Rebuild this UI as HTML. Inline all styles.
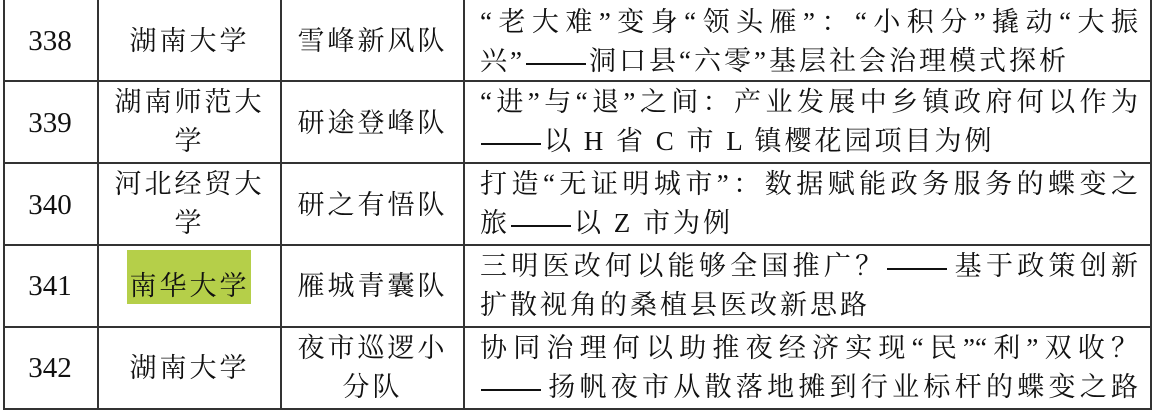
<!DOCTYPE html>
<html><head><meta charset="utf-8"><style>
body{margin:0;width:1155px;height:410px;background:#fff;position:relative;overflow:hidden;
font-family:"Liberation Serif","Noto Serif CJK SC","Noto Sans CJK SC",serif;color:#111;font-size:27px;}
.h{position:absolute;left:3px;width:1149px;height:2px;background:#333}
.v{position:absolute;top:0;width:2px;height:410px;background:#333}
.t{position:absolute;white-space:nowrap;line-height:38px;height:38px;transform:translateY(-19px)}
.c{text-align:center}
.j{text-align:justify;text-align-last:justify}
.num{font-size:29px}
.ti{left:480px;width:658px}
.u{letter-spacing:3px}
.d{display:inline-block;width:60px;height:2px;background:#111;vertical-align:middle;margin:0 3px 0 1px;font-size:0}
</style></head><body>
<div class="h" style="top:80px"></div>
<div class="h" style="top:162px"></div>
<div class="h" style="top:244px"></div>
<div class="h" style="top:326px"></div>
<div class="h" style="top:408px"></div>
<div class="v" style="left:3px"></div>
<div class="v" style="left:97px"></div>
<div class="v" style="left:280px"></div>
<div class="v" style="left:463px"></div>
<div class="v" style="left:1150px"></div>
<div style="position:absolute;left:127px;top:250px;width:124px;height:54px;background:#b5cf49"></div>

<div class="t c num" style="left:3px;width:94px;top:41px">338</div>
<div class="t c num" style="left:3px;width:94px;top:123px">339</div>
<div class="t c num" style="left:3px;width:94px;top:205px">340</div>
<div class="t c num" style="left:3px;width:94px;top:286px">341</div>
<div class="t c num" style="left:3px;width:94px;top:368px">342</div>

<div class="t c u" style="left:99px;width:181px;top:41px">湖南大学</div>
<div class="t c u" style="left:99px;width:181px;top:102px">湖南师范大</div>
<div class="t c u" style="left:99px;width:181px;top:141px">学</div>
<div class="t c u" style="left:99px;width:181px;top:184px">河北经贸大</div>
<div class="t c u" style="left:99px;width:181px;top:223px">学</div>
<div class="t c u" style="left:99px;width:181px;top:286px">南华大学</div>
<div class="t c u" style="left:99px;width:181px;top:368px">湖南大学</div>

<div class="t c u" style="left:282px;width:181px;top:41px">雪峰新风队</div>
<div class="t c u" style="left:282px;width:181px;top:123px">研途登峰队</div>
<div class="t c u" style="left:282px;width:181px;top:205px">研之有悟队</div>
<div class="t c u" style="left:282px;width:181px;top:286px">雁城青囊队</div>
<div class="t c u" style="left:282px;width:181px;top:348px">夜市巡逻小</div>
<div class="t c u" style="left:282px;width:181px;top:387px">分队</div>

<div class="t ti j" style="top:22px">“老大难”变身“领头雁”：“小积分”撬动“大振</div>
<div class="t ti u" style="top:61px">兴”<span class="d">——</span>洞口县“六零”基层社会治理模式探析</div>
<div class="t ti j" style="top:102px">“进”与“退”之间：产业发展中乡镇政府何以作为</div>
<div class="t ti u" style="top:141px"><span class="d">——</span>以 H 省 C 市 L 镇樱花园项目为例</div>
<div class="t ti j" style="top:184px">打造“无证明城市”：数据赋能政务服务的蝶变之</div>
<div class="t ti u" style="top:223px">旅<span class="d">——</span>以 Z 市为例</div>
<div class="t ti j" style="top:266px">三明医改何以能够全国推广？<span class="d">——</span>基于政策创新</div>
<div class="t ti u" style="top:305px">扩散视角的桑植县医改新思路</div>
<div class="t ti j" style="top:348px">协同治理何以助推夜经济实现“民”“利”双收？</div>
<div class="t ti j" style="top:387px"><span class="d">——</span>扬帆夜市从散落地摊到行业标杆的蝶变之路</div>
</body></html>
